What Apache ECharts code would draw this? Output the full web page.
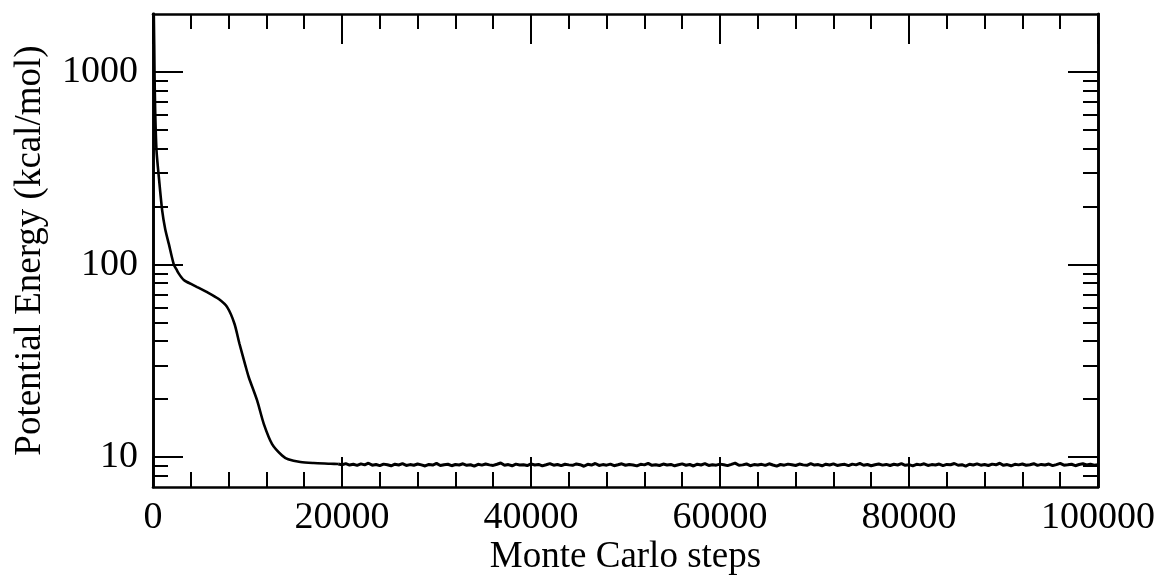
<!DOCTYPE html>
<html>
<head>
<meta charset="utf-8">
<title>Potential Energy vs Monte Carlo steps</title>
<script src="https://cdn.jsdelivr.net/npm/echarts@6/dist/echarts.min.js"></script>
<style>
  html, body { margin: 0; padding: 0; background: #fff; }
  #chart { width: 1159px; height: 575px; }
</style>
</head>
<body>
<div id="chart"></div>
<script>
// Relaxation phase: Monte Carlo step and potential energy (kcal/mol)
const relaxSteps = [0, 90, 160, 230, 370, 617, 969, 1300, 1674, 2203, 2500, 2732, 3000, 3260, 3600, 3966,
  4670, 5730, 6960, 7850, 8620, 9150, 9780, 10135, 11017, 11722, 12603, 13661, 14300, 15600, 17000, 18800, 19600];
const relaxEnergy = [2300, 1930, 1000, 632, 392, 285, 191, 152, 128, 100, 94, 89.7, 86, 83.2, 81.2, 79.6,
  76.4, 71.9, 66.2, 60.1, 49.3, 38.8, 29.9, 26.0, 19.7, 14.9, 11.7, 10.2, 9.75, 9.43, 9.32, 9.25, 9.21];

// Equilibrated phase: energy sampled every 400 steps from step 19600 to 100000
const plateauStart = 19600;
const plateauStep = 400;
const plateauEnergy = [
  9.21, 9.14, 9.26, 9.10, 9.18, 9.07, 9.23, 9.12, 9.30, 9.09,
  9.16, 9.04, 9.20, 9.13, 9.02, 9.19, 9.11, 9.25, 9.06, 9.15,
  9.08, 9.22, 9.12, 9.00, 9.17, 9.10, 9.28, 9.05, 9.14, 9.19,
  9.03, 9.16, 9.11, 9.24, 9.07, 9.13, 8.98, 9.18, 9.09, 9.21,
  9.12, 9.06, 9.19, 9.33, 9.08, 9.15, 9.02, 9.20, 9.11, 9.14,
  9.05, 9.23, 9.10, 9.17, 9.01, 9.13, 9.26, 9.08, 9.16, 9.04,
  9.19, 9.12, 9.07, 9.22, 9.14, 8.97, 9.18, 9.10, 9.27, 9.06,
  9.15, 9.09, 9.20, 9.03, 9.13, 9.24, 9.08, 9.16, 9.11, 9.01,
  9.18, 9.12, 9.29, 9.07, 9.14, 9.05, 9.21, 9.10, 9.17, 9.02,
  9.13, 9.23, 9.08, 9.16, 9.00, 9.19, 9.11, 9.25, 9.06, 9.14,
  9.09, 9.20, 9.13, 9.04, 9.17, 9.31, 9.08, 9.12, 9.22, 9.03,
  9.15, 9.10, 9.18, 9.06, 9.24, 9.11, 8.99, 9.16, 9.09, 9.20,
  9.13, 9.05, 9.21, 9.12, 9.07, 9.26, 9.10, 9.15, 9.02, 9.19,
  9.11, 9.23, 9.06, 9.14, 9.18, 9.04, 9.20, 9.12, 9.28, 9.08,
  9.16, 9.03, 9.13, 9.22, 9.09, 9.17, 9.05, 9.19, 9.11, 9.25,
  9.07, 9.14, 9.01, 9.18, 9.12, 9.24, 9.06, 9.15, 9.10, 9.21,
  9.04, 9.17, 9.13, 9.27, 9.08, 9.14, 8.98, 9.19, 9.11, 9.23,
  9.09, 9.16, 9.05, 9.20, 9.13, 9.30, 9.07, 9.15, 9.02, 9.18,
  9.12, 9.22, 9.08, 9.14, 9.25, 9.06, 9.17, 9.10, 9.21, 9.04,
  9.15, 9.28, 9.09, 9.13, 9.19, 9.03, 9.16, 9.24, 9.11, 9.20,
  9.08, 9.14
];

// Axis ticks and labels
const xLabelValues = [0, 20000, 40000, 60000, 80000, 100000];
const yMajorValues = [10, 100, 1000];
const yMinorValues = [8, 9, 20, 30, 40, 50, 60, 70, 80, 90, 200, 300, 400, 500, 600, 700, 800, 900];
const xTitle = 'Monte Carlo steps';
const yTitle = 'Potential Energy (kcal/mol)';

const relaxData = relaxSteps.map((s, i) => [s, relaxEnergy[i]]);
const plateauData = plateauEnergy.map((e, i) => [plateauStart + i * plateauStep, e]);

const FONT = "'Liberation Serif', 'Times New Roman', serif";
const INK = '#000';
const axisLineStyle = { show: true, onZero: false, lineStyle: { color: INK, width: 2.6 } };

function xAxisDef(position, withLabels) {
  return {
    type: 'value', position: position, min: 0, max: 100000, interval: 20000,
    axisLine: axisLineStyle,
    axisTick: { show: true, inside: true, length: 30, lineStyle: { color: INK, width: 2 } },
    minorTick: { show: true, splitNumber: 5, length: 15, lineStyle: { color: INK, width: 2 } },
    splitLine: { show: false }, minorSplitLine: { show: false },
    axisLabel: withLabels ? {
      show: true, margin: 12, color: INK, fontFamily: FONT, fontSize: 38,
      customValues: xLabelValues, formatter: v => String(Math.round(v))
    } : { show: false },
    name: withLabels ? xTitle : '',
    nameLocation: 'middle', nameGap: 52, nameMoveOverlap: false,
    nameTextStyle: { color: INK, fontFamily: FONT, fontSize: 37 }
  };
}

function yAxisDef(position, ticks, len, withLabels) {
  return {
    type: 'log', logBase: 10, position: position, min: 7, max: 2000,
    axisLine: axisLineStyle,
    axisTick: { show: true, inside: true, length: len, customValues: ticks, lineStyle: { color: INK, width: 2 } },
    splitLine: { show: false },
    axisLabel: withLabels ? {
      show: true, margin: 15, color: INK, fontFamily: FONT, fontSize: 38,
      customValues: yMajorValues, formatter: v => String(Math.round(v))
    } : { show: false },
    name: withLabels ? yTitle : '',
    nameLocation: 'middle', nameGap: 104, nameRotate: 90, nameMoveOverlap: false,
    nameTextStyle: { color: INK, fontFamily: FONT, fontSize: 37 }
  };
}

const chart = echarts.init(document.getElementById('chart'), null, { renderer: 'canvas' });
chart.setOption({
  animation: false,
  backgroundColor: '#fff',
  grid: { left: 153, top: 14, width: 945, height: 473, containLabel: false, outerBoundsMode: 'none' },
  xAxis: [xAxisDef('bottom', true), xAxisDef('top', false)],
  yAxis: [
    yAxisDef('left', yMajorValues, 30, true),
    yAxisDef('left', yMinorValues, 15, false),
    yAxisDef('right', yMajorValues, 30, false),
    yAxisDef('right', yMinorValues, 15, false)
  ],
  series: [{
    type: 'line',
    xAxisIndex: 0, yAxisIndex: 0,
    data: relaxData,
    showSymbol: false, symbol: 'none',
    smooth: 0.25,
    clip: true,
    lineStyle: { color: INK, width: 2.6 }
  }, {
    type: 'line',
    xAxisIndex: 0, yAxisIndex: 0,
    data: plateauData,
    showSymbol: false, symbol: 'none',
    clip: true,
    lineStyle: { color: INK, width: 3 }
  }]
});
</script>
</body>
</html>
